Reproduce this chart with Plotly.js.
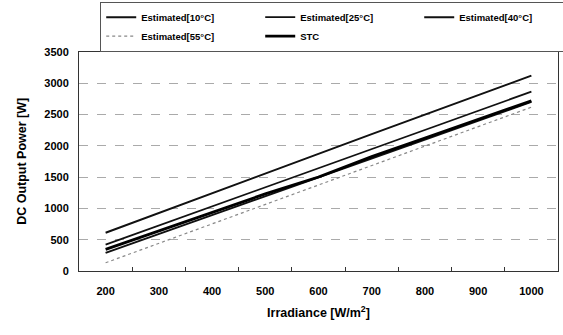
<!DOCTYPE html>
<html>
<head>
<meta charset="utf-8">
<script src="https://cdn.plot.ly/plotly-3.0.1.min.js"></script>
<style>html,body{margin:0;padding:0;background:#fff;}#chart{width:563px;height:335px;}</style>
</head>
<body>
<div id="chart"></div>
<script>
const irradiance = ['200','300','400','500','600','700','800','900','1000'];
const est10 = [610, 925, 1240, 1555, 1880, 2185, 2495, 2805, 3118];
const est25 = [420, 725, 1030, 1335, 1650, 1945, 2250, 2555, 2862];
const est40 = [290, 590, 890, 1195, 1495, 1795, 2095, 2400, 2700];
const est55 = [131, 440, 750, 1060, 1370, 1680, 1990, 2300, 2614];
const stc   = [345, 640, 935, 1230, 1500, 1825, 2120, 2420, 2715];
const seriesNames = ['Estimated[10°C]', 'Estimated[25°C]', 'Estimated[40°C]', 'Estimated[55°C]', 'STC'];

const traces = [
  {x: irradiance, y: est10, name: seriesNames[0], mode: 'lines', line: {color: '#111', width: 2}},
  {x: irradiance, y: est25, name: seriesNames[1], mode: 'lines', line: {color: '#111', width: 1.8}},
  {x: irradiance, y: est40, name: seriesNames[2], mode: 'lines', line: {color: '#111', width: 2}},
  {x: irradiance, y: est55, name: seriesNames[3], mode: 'lines', line: {color: '#888', width: 1.2, dash: 'dot'}},
  {x: irradiance, y: stc,   name: seriesNames[4], mode: 'lines', line: {color: '#000', width: 2.8}}
];

const bold = {family: 'Liberation Sans, Arial, sans-serif', color: '#000', size: 11, weight: 'bold'};

const layout = {
  width: 563, height: 335,
  margin: {l: 79, r: 5, t: 49, b: 64},
  paper_bgcolor: '#fff', plot_bgcolor: '#fff',
  font: {family: 'Liberation Sans, Arial, sans-serif', color: '#000'},
  showlegend: true,
  legend: {
    orientation: 'h', xref: 'container', yref: 'container',
    x: 0.178, y: 0.995, xanchor: 'left', yanchor: 'top',
    bordercolor: '#555', borderwidth: 1, bgcolor: '#fff',
    entrywidth: 114, entrywidthmode: 'pixels', tracegroupgap: 0,
    font: {family: 'Liberation Sans, Arial, sans-serif', size: 9.5, color: '#000', weight: 'bold'}
  },
  xaxis: {
    type: 'category', range: [-0.5, 8.5], autorange: false,
    tickson: 'boundaries', ticks: 'inside', ticklen: 4, tickcolor: '#333',
    showline: true, linecolor: '#333', linewidth: 1, mirror: true,
    showgrid: false, zeroline: false,
    tickfont: bold, ticklabelstandoff: 10,
    title: {text: '<b>Irradiance [W/m<sup>2</sup>]</b>', font: {family: 'Liberation Sans, Arial, sans-serif', size: 12.5, color: '#000'}, standoff: 12}
  },
  yaxis: {
    range: [0, 3500], dtick: 500, tick0: 0,
    showline: true, linecolor: '#333', linewidth: 1, mirror: true,
    showgrid: true, gridcolor: '#aaa', griddash: 'dash', gridwidth: 1,
    zeroline: false, ticks: '',
    tickfont: bold, ticklabelstandoff: 7,
    title: {text: '<b>DC Output Power [W]</b>', font: {family: 'Liberation Sans, Arial, sans-serif', size: 12.5, color: '#000'}, standoff: 14}
  }
};

Plotly.newPlot('chart', traces, layout, {displayModeBar: false, staticPlot: true});
</script>
</body>
</html>
